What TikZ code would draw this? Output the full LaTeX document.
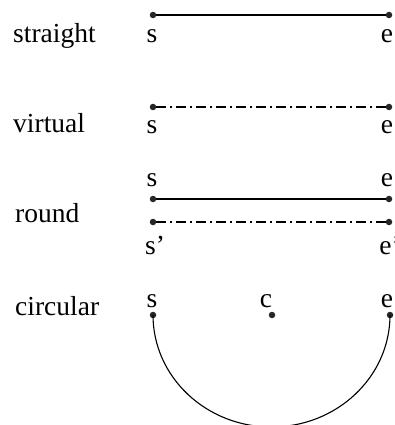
\documentclass[tikz,border=0pt]{standalone}
\usepackage{fontspec}
\setmainfont{Liberation Serif}
\usetikzlibrary{positioning}

\begin{document}
\begin{tikzpicture}[
  x=1pt, y=-1pt,
  font=\fontsize{27.5}{30}\selectfont,
  kind/.style={anchor=base west, inner sep=0pt},
  lbl/.style={anchor=base, inner sep=0pt},
  dot/.style={circle, fill=black!85, inner sep=0pt, minimum size=6.5pt},
  seg/.style={line width=1.1pt},
  virt/.style={line width=1.1pt, dash pattern=on 10pt off 4pt on 1.5pt off 4.5pt}
]
\useasboundingbox (0,0) rectangle (394,425);

% ── straight ────────────────────────────────────────────────────────────
\node[kind] (straight) at (13,43) {straight};
\node[dot] (s1) at (153,15) {};
\node[dot] (e1) at (389,15) {};
\draw[seg] (s1) -- (e1);
\node[lbl] (s1lbl) at (152,43) {s};
\node[lbl] (e1lbl) at (387,43) {e};

% ── virtual ─────────────────────────────────────────────────────────────
\node[kind] (virtual) at (13,132) {virtual};
\node[dot] (s2) at (153,107) {};
\node[dot] (e2) at (389,107) {};
\draw[virt] (s2) -- (e2);
\node[lbl] (s2lbl) at (152,133) {s};
\node[lbl] (e2lbl) at (387,133) {e};

% ── round ───────────────────────────────────────────────────────────────
\node[kind] (round) at (15,222) {round};
\node[lbl] (s3lbl) at (152,186) {s};
\node[lbl] (e3lbl) at (387,186) {e};
\node[dot] (s3) at (153,199) {};
\node[dot] (e3) at (389,199) {};
\draw[seg] (s3) -- (e3);
\node[dot] (s3p) at (153,222) {};
\node[dot] (e3p) at (389,222) {};
\draw[virt] (s3p) -- (e3p);
\node[lbl] (s3plbl) at (155,254) {s'};
\node[lbl] (e3plbl) at (390,254) {e'};

% ── circular ────────────────────────────────────────────────────────────
\node[kind] (circular) at (15,315) {circular};
\node[lbl] (s4lbl) at (152,307) {s};
\node[lbl] (c4lbl) at (266,307) {c};
\node[lbl] (e4lbl) at (387,307) {e};
\node[dot] (s4) at (153,315) {};
\node[dot] (c4) at (272,315) {};
\node[dot] (e4) at (390,315) {};
\draw[seg] (s4.center) arc[start angle=180, end angle=360, x radius=118.5pt, y radius=112pt];

\end{tikzpicture}
\end{document}
